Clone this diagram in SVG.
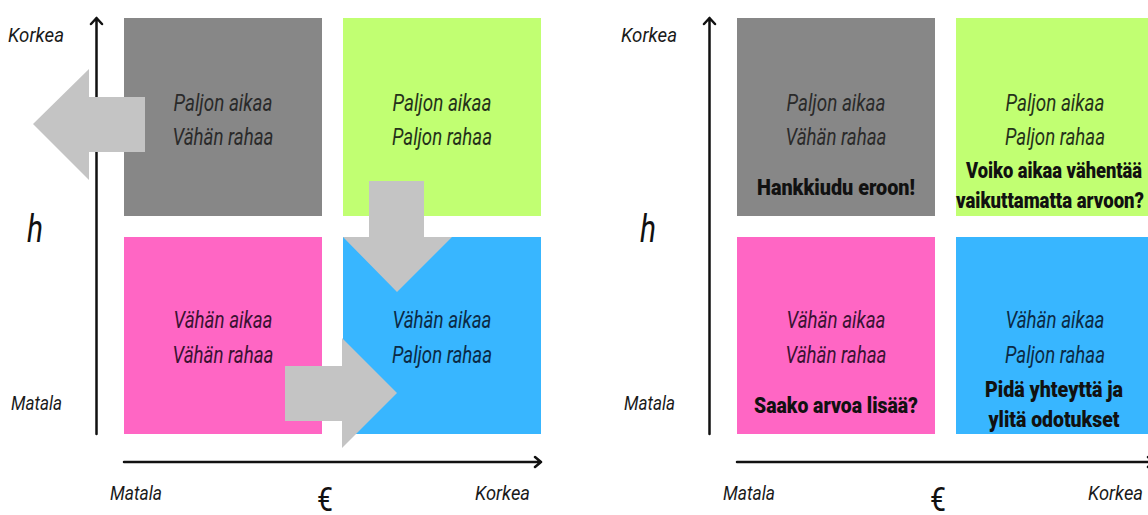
<svg xmlns="http://www.w3.org/2000/svg" width="1148" height="515" viewBox="0 0 1148 515">
  <style>
    .lbl { font-family: Roboto, "Liberation Sans", sans-serif; font-style: italic; font-size: 20px; fill: #1a1a1a; }
    .big { font-family: Roboto, "Liberation Sans", sans-serif; font-style: italic; font-size: 38px; fill: #111; }
    .euro { font-family: Roboto, "Liberation Sans", sans-serif; font-size: 34px; fill: #111; }
    .it { font-family: Roboto, "Liberation Sans", sans-serif; font-style: italic; font-size: 24px; text-anchor: middle; }
    .bd { font-family: Roboto, "Liberation Sans", sans-serif; font-weight: 900; font-size: 22px; text-anchor: middle; fill: #111; }
    .axis { stroke: #111; stroke-width: 2.5; fill: none; stroke-linecap: round; stroke-linejoin: round; }
    .blk { fill: #c4c4c4; }
    .gray { fill: #878787; }
    .green { fill: #c1ff72; }
    .pink { fill: #ff66c4; }
    .blue { fill: #38b6ff; }
    .tg { fill: #2a2a2a; }
    .tl { fill: #25321a; }
    .tp { fill: #3a1232; }
    .tb { fill: #0b2a45; }
  </style>

  <!-- Left matrix -->
  <g id="left-axes">
    <path class="axis" d="M96.5 434 V18 M91 24 L96.5 18 L102 24"/>
    <path class="axis" d="M124 462 H541 M535 457 L541 462 L535 467"/>
    <text class="lbl" x="8" y="42" textLength="56" lengthAdjust="spacingAndGlyphs">Korkea</text>
    <text class="big" x="27" y="242" textLength="16" lengthAdjust="spacingAndGlyphs">h</text>
    <text class="lbl" x="11" y="410" textLength="51" lengthAdjust="spacingAndGlyphs">Matala</text>
    <text class="lbl" x="110" y="500" textLength="52" lengthAdjust="spacingAndGlyphs">Matala</text>
    <text class="euro" x="317" y="511" textLength="16" lengthAdjust="spacingAndGlyphs">€</text>
    <text class="lbl" x="475" y="500" textLength="55" lengthAdjust="spacingAndGlyphs">Korkea</text>
  </g>

  <g id="left-high-time-low-money">
    <rect class="gray" x="124" y="18" width="198" height="198"/>
    <text class="it tg" x="223" y="111" textLength="99" lengthAdjust="spacingAndGlyphs">Paljon aikaa</text>
    <text class="it tg" x="223" y="145" textLength="101" lengthAdjust="spacingAndGlyphs">Vähän rahaa</text>
  </g>
  <g id="left-high-time-high-money">
    <rect class="green" x="343" y="18" width="198" height="198"/>
    <text class="it tl" x="442" y="111" textLength="99" lengthAdjust="spacingAndGlyphs">Paljon aikaa</text>
    <text class="it tl" x="442" y="145" textLength="100" lengthAdjust="spacingAndGlyphs">Paljon rahaa</text>
  </g>
  <g id="left-low-time-low-money">
    <rect class="pink" x="124" y="237" width="198" height="197"/>
    <text class="it tp" x="223" y="328" textLength="99" lengthAdjust="spacingAndGlyphs">Vähän aikaa</text>
    <text class="it tp" x="223" y="363" textLength="101" lengthAdjust="spacingAndGlyphs">Vähän rahaa</text>
  </g>
  <g id="left-low-time-high-money">
    <rect class="blue" x="343" y="237" width="198" height="197"/>
    <text class="it tb" x="442" y="328" textLength="99" lengthAdjust="spacingAndGlyphs">Vähän aikaa</text>
    <text class="it tb" x="442" y="363" textLength="100" lengthAdjust="spacingAndGlyphs">Paljon rahaa</text>
  </g>

  <!-- Block arrows showing the moves between quadrants -->
  <g id="connectors">
    <polygon class="blk" points="145,97 89,97 89,69 33,124 89,180 89,152 145,152"/>
    <polygon class="blk" points="369,181 424,181 424,237 452,237 397,292 343,237 369,237"/>
    <polygon class="blk" points="285,366 342,366 342,338 397,393 342,448 342,421 285,421"/>
  </g>

  <!-- Right matrix -->
  <g id="right-axes">
    <path class="axis" d="M709.5 434 V18 M704 24 L709.5 18 L715 24"/>
    <path class="axis" d="M737 462 H1154 M1148 457 L1154 462 L1148 467"/>
    <text class="lbl" x="621" y="42" textLength="56" lengthAdjust="spacingAndGlyphs">Korkea</text>
    <text class="big" x="640" y="242" textLength="16" lengthAdjust="spacingAndGlyphs">h</text>
    <text class="lbl" x="624" y="410" textLength="51" lengthAdjust="spacingAndGlyphs">Matala</text>
    <text class="lbl" x="723" y="500" textLength="52" lengthAdjust="spacingAndGlyphs">Matala</text>
    <text class="euro" x="930" y="511" textLength="16" lengthAdjust="spacingAndGlyphs">€</text>
    <text class="lbl" x="1088" y="500" textLength="55" lengthAdjust="spacingAndGlyphs">Korkea</text>
  </g>

  <g id="right-high-time-low-money">
    <rect class="gray" x="737" y="18" width="198" height="198"/>
    <text class="it tg" x="836" y="111" textLength="99" lengthAdjust="spacingAndGlyphs">Paljon aikaa</text>
    <text class="it tg" x="836" y="145" textLength="101" lengthAdjust="spacingAndGlyphs">Vähän rahaa</text>
    <text class="bd" x="836" y="195" textLength="158" lengthAdjust="spacingAndGlyphs">Hankkiudu eroon!</text>
  </g>
  <g id="right-high-time-high-money">
    <rect class="green" x="956" y="18" width="198" height="198"/>
    <text class="it tl" x="1055" y="111" textLength="99" lengthAdjust="spacingAndGlyphs">Paljon aikaa</text>
    <text class="it tl" x="1055" y="145" textLength="100" lengthAdjust="spacingAndGlyphs">Paljon rahaa</text>
    <text class="bd" x="1054" y="178" textLength="176" lengthAdjust="spacingAndGlyphs">Voiko aikaa vähentää</text>
    <text class="bd" x="1050" y="208" textLength="188" lengthAdjust="spacingAndGlyphs">vaikuttamatta arvoon?</text>
  </g>
  <g id="right-low-time-low-money">
    <rect class="pink" x="737" y="237" width="198" height="197"/>
    <text class="it tp" x="836" y="328" textLength="99" lengthAdjust="spacingAndGlyphs">Vähän aikaa</text>
    <text class="it tp" x="836" y="363" textLength="101" lengthAdjust="spacingAndGlyphs">Vähän rahaa</text>
    <text class="bd" x="836" y="413" textLength="164" lengthAdjust="spacingAndGlyphs">Saako arvoa lisää?</text>
  </g>
  <g id="right-low-time-high-money">
    <rect class="blue" x="956" y="237" width="198" height="197"/>
    <text class="it tb" x="1055" y="328" textLength="99" lengthAdjust="spacingAndGlyphs">Vähän aikaa</text>
    <text class="it tb" x="1055" y="363" textLength="100" lengthAdjust="spacingAndGlyphs">Paljon rahaa</text>
    <text class="bd" x="1054" y="397" textLength="138" lengthAdjust="spacingAndGlyphs">Pidä yhteyttä ja</text>
    <text class="bd" x="1054" y="427" textLength="131" lengthAdjust="spacingAndGlyphs">ylitä odotukset</text>
  </g>
</svg>
